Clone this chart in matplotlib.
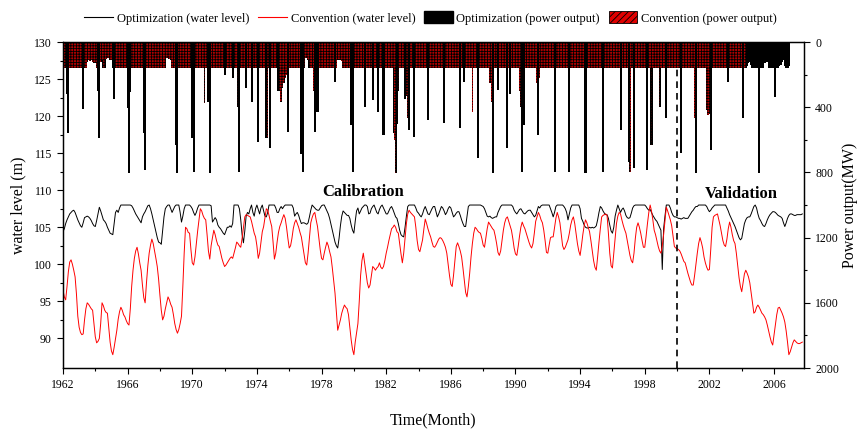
import numpy as np
import matplotlib
matplotlib.use("Agg")
import matplotlib.pyplot as plt
from matplotlib.lines import Line2D
from matplotlib.patches import Patch

plt.rcParams['font.family'] = ['Liberation Serif', 'DejaVu Serif']
plt.rcParams['hatch.linewidth'] = 0.6

# ---------------- data (monthly, starting Jan 1962) ----------------
start_year = 1962
split_year = 2000  # calibration / validation boundary

# water level (m)
opt_level = [
    104.4, 104.8, 105.5, 106.0, 106.4, 106.8, 107.0, 107.2, 107.3, 107.0, 106.5, 106.0,
    105.6, 105.2, 105.0, 105.6, 106.3, 106.4, 106.5, 106.4, 106.2, 105.9, 105.5, 105.2,
    105.1, 105.9, 106.8, 107.7, 107.2, 106.6, 106.0, 105.8, 105.5, 105.0, 104.6, 104.2,
    104.1, 104.0, 105.5, 107.0, 107.3, 107.0, 107.6, 108.0, 108.0, 108.0, 108.0, 108.0,
    108.0, 108.0, 108.0, 107.9, 107.6, 107.2, 106.8, 106.5, 106.2, 105.9, 105.6, 106.4,
    106.8, 107.1, 107.5, 107.9, 108.0, 107.5, 106.8, 106.0, 105.2, 104.4, 103.6, 103.0,
    102.9, 102.7, 104.5, 106.4, 107.5, 107.8, 108.0, 108.0, 107.5, 107.0, 107.4, 107.8,
    108.0, 108.0, 108.0, 107.0, 105.7, 106.5, 107.5, 108.0, 108.0, 108.0, 108.0, 107.8,
    107.5, 107.0, 106.6, 107.0, 107.6, 108.0, 108.0, 108.0, 108.0, 108.0, 108.0, 108.0,
    108.0, 108.0, 107.9, 105.7, 106.0, 106.3, 106.0, 105.3, 105.0, 104.8, 104.5, 104.2,
    104.0, 104.5, 105.0, 105.0, 105.2, 105.0, 105.5, 108.0, 108.0, 108.0, 108.0, 107.5,
    106.0, 104.0, 102.9, 104.5, 106.5, 107.0, 106.8, 107.5, 108.0, 107.0, 106.5, 107.5,
    108.0, 107.4, 106.8, 107.6, 108.0, 107.2, 106.5, 106.4, 107.0, 108.0, 108.0, 108.0,
    108.0, 108.0, 107.6, 107.0, 107.0, 107.5, 107.8, 107.5, 107.8, 108.0, 108.0, 108.0,
    108.0, 108.0, 108.0, 107.6, 106.5, 106.8, 107.0, 106.6, 106.0, 105.5, 105.6, 105.6,
    105.5, 105.4, 105.6, 106.4, 107.3, 108.0, 107.8, 107.6, 107.4, 107.3, 107.3, 107.6,
    107.9, 108.0, 108.0, 107.6, 107.2, 106.8, 106.2, 105.4, 104.6, 103.8, 103.0, 102.5,
    102.2, 103.5, 105.2, 106.5, 107.2, 107.0, 106.8, 106.6, 106.6, 106.2, 105.3, 104.6,
    104.2, 105.8, 107.2, 107.6, 106.8, 107.2, 107.6, 107.8, 108.0, 108.0, 107.8, 106.8,
    106.9, 107.5, 107.8, 108.0, 107.5, 107.0, 106.8, 107.4, 107.8, 108.0, 107.6, 107.2,
    106.8, 106.8, 107.2, 107.6, 107.8, 107.4, 106.9, 106.4, 106.2, 105.5, 104.6, 104.0,
    103.8, 103.7, 105.0, 106.5, 107.8, 108.0, 108.0, 108.0, 108.0, 108.0, 107.6, 107.1,
    106.9, 106.6, 106.4, 106.8, 107.4, 107.8, 107.3, 106.8, 106.7, 107.1, 107.5, 107.8,
    107.8, 107.1, 106.4, 106.8, 107.3, 107.8, 107.6, 107.2, 106.7, 107.0, 107.5, 107.8,
    107.6, 107.0, 106.4, 106.6, 106.9, 107.1, 107.1, 106.6, 106.0, 105.5, 105.1, 105.1,
    106.5, 107.8, 108.0, 108.0, 108.0, 108.0, 108.0, 108.0, 108.0, 108.0, 108.0, 107.9,
    107.8, 107.5, 107.0, 106.5, 106.4, 106.5, 106.3, 106.2, 106.3, 106.4, 106.4, 107.0,
    107.4, 107.8, 108.0, 108.0, 108.0, 108.0, 108.0, 108.0, 108.0, 108.0, 107.8, 107.3,
    107.0, 106.8, 107.1, 107.4, 107.5, 107.2, 106.9, 106.8, 107.0, 107.2, 107.3, 107.3,
    107.0, 106.7, 106.4, 106.6, 107.2, 107.8, 107.6, 107.9, 108.0, 108.0, 108.0, 108.0,
    108.0, 108.0, 107.5, 107.0, 106.4, 107.0, 107.8, 108.0, 108.0, 108.0, 108.0, 108.0,
    107.8, 107.5, 107.0, 106.0, 106.8, 107.6, 108.0, 108.0, 108.0, 108.0, 108.0, 108.0,
    107.5, 106.2, 105.8, 105.3, 105.0, 104.9, 104.9, 105.0, 104.9, 105.0, 104.9, 105.0,
    105.2, 106.0, 107.0, 107.8, 107.6, 107.2, 106.9, 106.7, 106.7, 106.2, 105.3, 104.5,
    104.2, 105.0, 106.5, 107.3, 108.0, 107.5, 107.0, 107.4, 107.6, 107.2, 106.6, 106.3,
    106.2, 106.3, 106.9, 107.6, 107.9, 108.0, 108.0, 108.0, 108.0, 108.0, 108.0, 108.0,
    108.0, 107.8, 107.5, 107.3, 107.4, 107.0, 106.6, 106.3, 106.0, 105.8, 105.4, 105.0,
    104.6, 99.3, 104.8, 106.5, 108.0, 108.0, 108.0, 107.6, 107.0, 106.6, 106.4, 106.4,
    106.3, 106.2, 106.2, 106.1, 106.2, 106.3, 106.2, 106.2, 106.2, 106.5, 106.8, 107.1,
    107.3, 107.6, 107.8, 107.8, 108.0, 108.0, 108.0, 108.0, 108.0, 108.0, 107.8, 107.4,
    107.1, 107.3, 107.6, 107.8, 108.0, 108.0, 108.0, 108.0, 108.0, 108.0, 108.0, 108.0,
    108.0, 107.6, 107.2, 106.7, 106.3, 105.9, 105.5, 105.1, 104.6, 104.1, 103.6, 103.3,
    103.5, 104.5, 105.5, 106.0, 106.3, 106.4, 106.4, 106.8, 107.3, 107.8, 108.0, 107.6,
    106.8, 106.2, 105.9, 105.5, 105.2, 105.1, 105.5, 106.0, 106.4, 106.7, 106.9, 107.1,
    107.1, 107.0, 106.8, 106.6, 106.5, 106.4, 106.2, 105.6, 105.1, 105.6, 106.2, 106.6,
    106.8, 106.8, 106.7, 106.6, 106.6, 106.7, 106.7, 106.7, 106.7, 106.8,
]
conv_level = [
    96.5, 95.6, 95.2, 97.0, 99.0, 100.3, 100.6, 100.0, 99.2, 98.3, 96.0, 93.0,
    91.5, 90.8, 90.5, 90.6, 92.5, 94.0, 94.8, 94.6, 94.3, 94.0, 93.8, 92.0,
    90.2, 89.4, 89.6, 90.0, 92.0, 94.8, 94.4, 93.8, 93.5, 93.4, 91.5, 89.5,
    88.3, 87.8, 88.8, 90.0, 91.1, 92.6, 93.6, 94.2, 93.8, 93.2, 92.9, 92.4,
    92.0, 91.8, 94.0, 97.0, 99.2, 100.8, 101.8, 102.3, 101.4, 100.2, 99.2, 97.2,
    95.5, 94.8, 97.5, 99.8, 101.5, 102.6, 103.4, 102.8, 101.8, 100.8, 99.7, 98.0,
    95.8, 93.8, 92.5, 93.0, 94.0, 94.8, 95.6, 95.2, 94.6, 94.2, 93.2, 92.0,
    91.2, 90.7, 91.2, 92.0, 93.0, 97.0, 101.5, 105.0, 104.8, 104.3, 104.2, 102.0,
    100.2, 99.9, 101.0, 102.8, 104.5, 106.0, 107.5, 107.2, 106.6, 106.2, 106.0, 104.0,
    101.8, 100.7, 102.5, 103.6, 104.6, 104.0, 103.2, 102.6, 102.4, 101.6, 100.8, 100.2,
    99.7, 99.9, 100.2, 100.5, 100.8, 101.0, 100.8, 101.5, 102.2, 103.0, 102.8, 102.5,
    102.3, 103.5, 105.0, 106.4, 106.7, 106.6, 106.5, 106.4, 105.8, 105.0, 104.2, 103.7,
    102.5, 100.8, 101.5, 103.0, 104.4, 105.1, 106.3, 107.5, 107.3, 106.6, 105.8, 105.1,
    103.0, 100.7, 101.5, 103.0, 104.3, 105.1, 105.6, 106.2, 106.7, 106.2, 105.0, 103.5,
    102.2, 102.5, 103.5, 104.8, 105.6, 106.0, 105.5, 105.0, 104.3, 103.7, 102.5, 101.2,
    100.2, 99.9, 101.5, 103.5, 105.6, 106.3, 106.8, 107.0, 106.0, 105.1, 103.5, 102.0,
    100.8, 100.6, 101.5, 102.3, 103.0, 102.5, 101.7, 101.0, 99.5, 97.8, 96.1, 93.5,
    91.1, 91.8, 92.5, 93.4, 94.0, 94.5, 94.2, 94.0, 93.2, 91.5, 89.8, 88.5,
    87.8, 89.5, 90.8, 92.0, 95.0, 98.5, 100.5, 101.5, 100.2, 98.8, 97.5, 96.8,
    97.2, 98.5, 99.7, 99.5, 99.2, 99.5, 99.7, 100.2, 99.6, 99.4, 99.7, 100.5,
    101.5, 102.3, 103.2, 104.0, 104.8, 105.0, 105.3, 105.0, 104.4, 104.2, 102.8, 101.4,
    100.2, 101.5, 103.5, 105.5, 106.8, 107.3, 107.0, 106.8, 106.6, 106.4, 105.0, 103.2,
    102.0, 101.7, 102.5, 103.3, 104.8, 106.1, 105.5, 104.8, 104.2, 103.7, 103.0, 102.4,
    102.3, 102.6, 103.0, 103.4, 103.6, 103.5, 103.2, 102.8, 102.3, 101.5, 100.0, 98.5,
    97.3, 97.0, 98.5, 100.5, 102.4, 102.9, 102.4, 101.8, 101.0, 99.5, 97.8, 96.2,
    95.6, 97.0, 98.8, 101.0, 102.8, 104.2, 105.0, 104.8, 104.5, 104.3, 104.2, 103.5,
    102.6, 102.3, 103.5, 104.8, 105.7, 105.4, 105.1, 104.8, 104.6, 103.8, 102.8, 101.6,
    101.2, 101.8, 103.2, 104.6, 105.6, 106.2, 106.4, 105.8, 105.2, 104.6, 103.5, 102.2,
    101.4, 101.2, 102.4, 103.8, 105.0, 105.7, 105.2, 104.8, 104.2, 103.6, 103.0, 102.5,
    102.2, 102.8, 104.2, 105.8, 106.4, 107.0, 106.6, 106.0, 105.6, 104.6, 103.2, 101.6,
    101.5, 102.6, 103.6, 103.7, 103.7, 105.0, 106.2, 107.0, 106.4, 105.6, 104.0, 102.5,
    102.0, 102.3, 102.8, 103.3, 104.2, 105.3, 106.0, 106.4, 105.5, 104.2, 102.8, 101.8,
    101.2, 102.5, 104.0, 105.2, 106.0, 105.6, 105.0, 104.4, 103.2, 101.8, 100.5, 99.6,
    99.2, 101.0, 103.0, 104.8, 106.4, 106.6, 106.7, 106.8, 106.6, 104.2, 101.5, 99.8,
    99.5, 101.5, 103.5, 105.5, 106.5, 107.0, 106.8, 106.0, 105.3, 104.7, 104.2, 103.2,
    102.2, 101.2, 100.5, 100.2, 101.5, 103.5, 105.0, 105.6, 105.0, 104.2, 103.2, 102.3,
    102.3, 103.8, 105.5, 107.0, 108.0, 107.2, 106.0, 104.6, 104.0, 103.2, 102.4, 101.8,
    101.5, 102.5, 104.0, 105.8, 107.7, 107.2, 106.6, 106.0, 105.2, 103.8, 102.4, 102.2,
    102.1, 102.0, 101.8, 101.4, 100.9, 100.4, 100.2, 99.5, 98.8, 98.2, 97.6, 97.2,
    97.2, 98.5, 100.0, 101.5, 102.8, 103.6, 103.0, 102.2, 101.0, 100.2, 99.6, 99.2,
    99.3, 102.0, 105.0, 106.4, 106.6, 106.7, 106.8, 106.0, 105.2, 104.2, 103.2, 102.6,
    102.4, 103.4, 104.8, 105.7, 105.0, 104.0, 103.2, 102.8, 101.5, 99.8, 98.2, 97.0,
    96.3, 97.5, 98.7, 99.2, 98.8, 98.3, 97.5, 96.2, 94.8, 93.4, 93.6, 94.2,
    94.5, 94.2, 93.8, 93.4, 93.2, 92.9, 92.5, 91.8, 91.0, 90.2, 89.5, 89.1,
    90.5, 92.0, 93.2, 94.1, 94.2, 93.8, 93.4, 92.9, 92.2, 91.0, 89.5, 87.8,
    88.2, 88.8, 89.4, 89.8, 89.6, 89.4, 89.3, 89.3, 89.4, 89.5,
]

# power output (MW), Jan 1962 - Dec 2006
opt_power = [
    160, 160, 160, 320, 558, 160, 160, 160, 160, 160, 160, 160,
    160, 160, 160, 411, 160, 160, 120, 110, 115, 110, 120, 130,
    130, 160, 300, 589, 120, 110, 160, 160, 105, 100, 100, 110,
    110, 160, 350, 160, 160, 160, 160, 160, 160, 160, 160, 160,
    405, 804, 307, 160, 160, 160, 160, 160, 160, 160, 160, 160,
    558, 785, 160, 160, 160, 160, 160, 160, 160, 160, 160, 160,
    160, 160, 160, 160, 160, 100, 100, 105, 110, 160, 160, 160,
    632, 804, 160, 160, 160, 160, 160, 160, 160, 160, 160, 160,
    590, 797, 160, 160, 160, 160, 160, 160, 160, 160, 160, 160,
    370, 804, 160, 160, 160, 160, 160, 160, 160, 160, 160, 160,
    202, 160, 160, 160, 160, 160, 221, 160, 160, 160, 368, 797,
    160, 160, 160, 160, 282, 160, 160, 160, 368, 160, 160, 160,
    160, 613, 160, 160, 160, 160, 160, 589, 160, 160, 650, 160,
    160, 160, 160, 160, 300, 160, 160, 160, 160, 160, 160, 552,
    160, 160, 160, 160, 160, 160, 160, 160, 160, 690, 797, 160,
    100, 100, 110, 160, 160, 160, 160, 552, 160, 430, 160, 160,
    160, 160, 160, 160, 160, 160, 160, 160, 160, 160, 245, 160,
    110, 105, 110, 115, 160, 160, 160, 160, 160, 160, 509, 797,
    160, 160, 160, 160, 160, 160, 160, 160, 399, 160, 160, 160,
    160, 160, 356, 160, 160, 160, 430, 160, 160, 160, 570, 160,
    160, 160, 160, 160, 160, 160, 560, 804, 500, 160, 160, 160,
    160, 160, 350, 160, 160, 540, 160, 160, 160, 583, 160, 160,
    160, 160, 160, 160, 160, 160, 160, 478, 160, 160, 160, 160,
    160, 160, 160, 160, 160, 160, 160, 497, 160, 160, 160, 160,
    160, 160, 160, 160, 160, 160, 160, 527, 160, 160, 245, 160,
    160, 160, 160, 160, 160, 160, 160, 160, 712, 160, 160, 160,
    160, 160, 160, 160, 160, 160, 160, 804, 160, 160, 160, 294,
    160, 160, 160, 160, 160, 160, 650, 160, 320, 160, 160, 160,
    160, 160, 160, 160, 160, 797, 509, 160, 160, 160, 160, 160,
    160, 160, 160, 160, 160, 570, 160, 160, 160, 160, 160, 160,
    160, 160, 160, 160, 160, 797, 160, 160, 160, 160, 160, 160,
    160, 160, 160, 160, 797, 160, 160, 160, 160, 160, 160, 160,
    160, 160, 160, 160, 804, 160, 160, 160, 160, 160, 160, 160,
    160, 160, 160, 160, 160, 797, 160, 160, 160, 160, 160, 160,
    160, 160, 160, 160, 160, 160, 540, 160, 160, 160, 160, 160,
    736, 160, 160, 160, 773, 160, 160, 160, 160, 160, 160, 160,
    160, 160, 785, 160, 160, 632, 160, 160, 160, 160, 160, 399,
    160, 160, 160, 160, 466, 160, 160, 160, 160, 160, 160, 160,
    160, 160, 160, 681, 160, 160, 160, 160, 160, 160, 160, 160,
    160, 160, 804, 160, 160, 160, 160, 160, 160, 160, 160, 160,
    160, 662, 160, 160, 160, 160, 160, 160, 160, 160, 160, 160,
    160, 160, 245, 160, 160, 160, 160, 160, 160, 160, 160, 160,
    160, 466, 160, 160, 150, 130, 120, 140, 160, 160, 160, 160,
    160, 804, 160, 160, 160, 130, 115, 125, 160, 160, 160, 160,
    160, 337, 160, 160, 150, 140, 120, 110, 150, 160, 160, 150,
]
conv_power = [
    160, 160, 160, 160, 160, 160, 160, 160, 160, 160, 160, 160,
    160, 160, 160, 160, 160, 160, 120, 110, 115, 110, 120, 130,
    130, 160, 160, 160, 120, 110, 160, 160, 105, 100, 100, 110,
    110, 120, 130, 160, 160, 160, 160, 160, 160, 160, 160, 160,
    160, 160, 160, 160, 160, 160, 160, 160, 160, 160, 160, 160,
    160, 160, 160, 160, 160, 160, 160, 160, 160, 160, 160, 160,
    160, 160, 160, 160, 160, 100, 100, 105, 110, 160, 160, 160,
    160, 160, 160, 160, 160, 160, 160, 160, 160, 160, 160, 160,
    160, 466, 160, 160, 160, 160, 160, 160, 160, 374, 160, 160,
    160, 160, 160, 160, 160, 160, 160, 160, 160, 160, 160, 160,
    160, 160, 160, 160, 160, 160, 160, 160, 160, 160, 400, 632,
    160, 160, 160, 160, 160, 160, 160, 160, 160, 160, 160, 160,
    160, 160, 160, 160, 160, 160, 160, 160, 589, 160, 160, 160,
    160, 160, 160, 160, 250, 300, 370, 280, 250, 220, 200, 160,
    160, 160, 160, 160, 160, 160, 160, 160, 160, 160, 160, 160,
    100, 100, 110, 160, 160, 160, 300, 430, 300, 250, 160, 160,
    160, 160, 160, 160, 160, 160, 160, 160, 160, 160, 160, 160,
    110, 105, 110, 115, 160, 160, 160, 160, 160, 160, 160, 160,
    160, 160, 160, 160, 160, 160, 160, 160, 160, 160, 160, 160,
    160, 160, 160, 160, 160, 160, 160, 160, 160, 160, 160, 160,
    160, 160, 160, 160, 160, 160, 600, 804, 450, 300, 160, 160,
    160, 160, 250, 330, 466, 300, 160, 160, 160, 160, 160, 160,
    160, 160, 160, 160, 160, 160, 160, 160, 160, 160, 160, 160,
    160, 160, 160, 160, 160, 160, 160, 160, 160, 160, 160, 160,
    160, 160, 160, 160, 160, 160, 160, 160, 160, 160, 160, 160,
    160, 160, 160, 160, 430, 160, 160, 160, 160, 160, 160, 160,
    160, 160, 160, 160, 160, 250, 368, 300, 160, 160, 160, 160,
    160, 160, 160, 160, 160, 160, 160, 160, 160, 160, 160, 160,
    160, 160, 160, 300, 400, 466, 350, 160, 160, 160, 160, 160,
    160, 160, 160, 160, 250, 300, 220, 160, 160, 160, 160, 160,
    160, 160, 160, 160, 160, 160, 160, 160, 160, 160, 160, 160,
    160, 160, 160, 160, 160, 160, 160, 160, 160, 160, 160, 160,
    160, 160, 160, 160, 160, 160, 160, 160, 160, 160, 160, 160,
    160, 160, 160, 160, 160, 160, 160, 160, 160, 160, 160, 160,
    160, 160, 160, 160, 160, 160, 160, 160, 160, 160, 160, 160,
    160, 800, 160, 160, 160, 160, 160, 160, 160, 160, 160, 160,
    160, 160, 160, 160, 160, 632, 160, 160, 160, 160, 160, 399,
    160, 160, 160, 160, 160, 160, 160, 160, 160, 160, 160, 160,
    160, 160, 160, 160, 160, 160, 160, 160, 160, 160, 160, 160,
    160, 466, 160, 160, 160, 160, 160, 160, 160, 160, 420, 450,
    440, 300, 160, 160, 160, 160, 160, 160, 160, 160, 160, 160,
    160, 160, 160, 160, 160, 160, 160, 160, 160, 160, 160, 160,
    160, 160, 160, 160, 100, 90, 80, 90, 100, 100, 100, 100,
    100, 100, 100, 100, 100, 100, 100, 100, 100, 100, 100, 100,
    100, 100, 100, 100, 100, 100, 100, 100, 100, 100, 100, 100,
]

x_ticks = [1962, 1966, 1970, 1974, 1978, 1982, 1986, 1990, 1994, 1998, 2002, 2006]
x_minor = [1964, 1968, 1972, 1976, 1980, 1984, 1988, 1992, 1996, 2000, 2004]
level_ticks = [90, 95, 100, 105, 110, 115, 120, 125, 130]
power_ticks = [0, 400, 800, 1200, 1600, 2000]

# ---------------- figure ----------------
t_level = start_year + np.arange(len(opt_level)) / 12
t_power = start_year + np.arange(len(opt_power)) / 12
opt_p = np.array(opt_power)
conv_p = np.array(conv_power)

fig = plt.figure(figsize=(8.58, 4.32), dpi=100)
ax = fig.add_axes([0.0734, 0.1481, 0.8636, 0.7546])
ax2 = ax.twinx()

ax.plot(t_level, opt_level, color='black', lw=0.7)
ax.plot(t_level, conv_level, color='red', lw=0.7)

# bars hang from the top; black shown over red where optimization is larger
bw = 1.5 / 12
ax2.bar(t_power, opt_p, width=bw, color='black', linewidth=0, zorder=1)
ax2.bar(t_power, conv_p, width=1 / 12, facecolor='#b00000',
        edgecolor='black', hatch='++++++', linewidth=0, zorder=2)
mask = opt_p > conv_p
ax2.bar(t_power[mask], opt_p[mask], width=bw, color='black', linewidth=0, zorder=3)

ax.axvline(split_year, color='black', ls=(0, (4, 3)), lw=1.2)
ax.text(1980.6, 109.7, 'Calibration', fontsize=12, fontweight='bold', ha='center', va='center')
ax.text(2004.0, 109.5, 'Validation', fontsize=12, fontweight='bold', ha='center', va='center')

ax.set_xlim(1962, 2007.85)
ax.set_ylim(86, 130)
ax2.set_ylim(2000, 0)

ax.set_xticks(x_ticks)
ax.set_xticks(x_minor, minor=True)
ax.set_yticks(level_ticks)
ax.set_yticks(np.array(level_ticks[:-1]) + 2.5, minor=True)
ax2.set_yticks(power_ticks)
ax2.set_yticks(np.array(power_ticks[:-1]) + 200, minor=True)

for a in (ax, ax2):
    a.tick_params(which='major', direction='out', length=4.5, width=0.8, labelsize=8.5)
    a.tick_params(which='minor', direction='out', length=2.5, width=0.8)
    for s in a.spines.values():
        s.set_linewidth(0.9)

ax.set_xlabel('Time(Month)', fontsize=11.5)
ax.set_ylabel('water level (m)', fontsize=11.5)
ax2.set_ylabel('Power output(MW)', fontsize=11.5)
ax.xaxis.set_label_coords(0.5, -0.135)
ax.yaxis.set_label_coords(-0.049, 0.5)
ax2.yaxis.set_label_coords(1.052, 0.5)

handles = [
    Line2D([], [], color='black', lw=0.8),
    Line2D([], [], color='red', lw=0.8),
    Patch(facecolor='black', edgecolor='black'),
    Patch(facecolor='#e00000', edgecolor='black', hatch='/////', linewidth=0.6),
]
labels = ['Optimization (water level)', 'Convention (water level)',
          'Optimization (power output)', 'Convention (power output)']
fig.legend(handles, labels, loc='center', bbox_to_anchor=(0.502, 1 - 18 / 432), ncol=4,
           frameon=False, fontsize=9, handlelength=2.3, handleheight=1.1,
           handletextpad=0.3, columnspacing=0.7)

fig.savefig('out.png', dpi=100)
